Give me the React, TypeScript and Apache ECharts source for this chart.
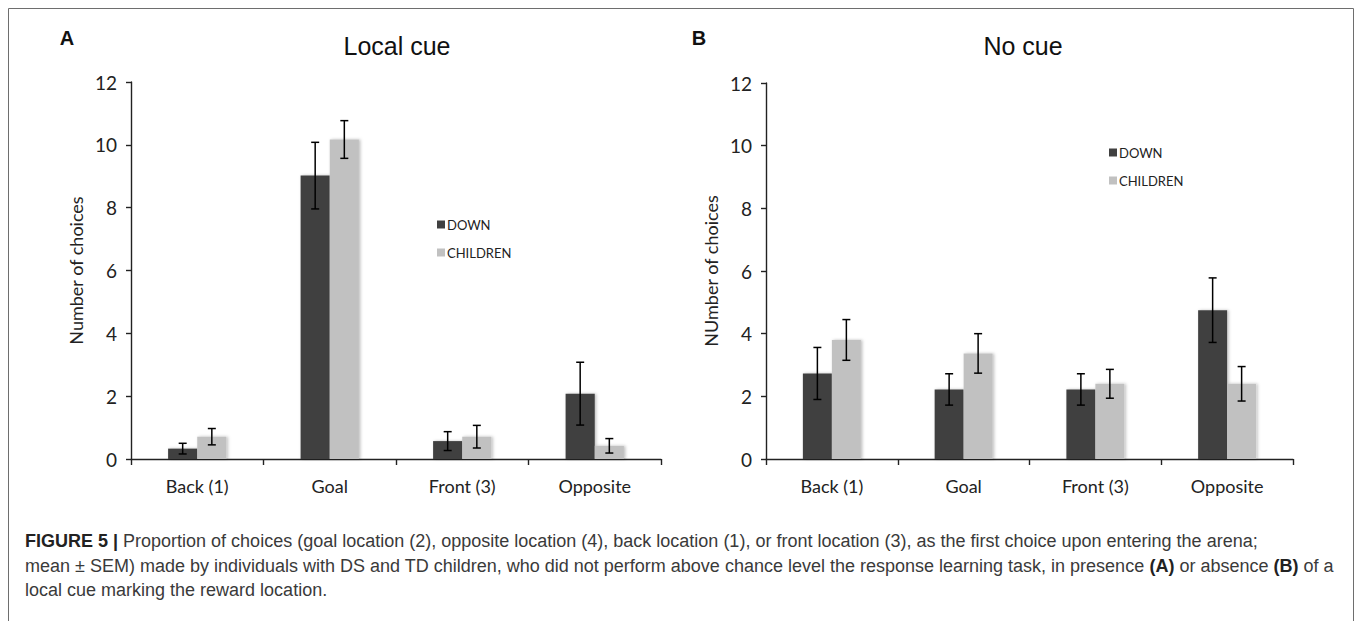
import React, { useEffect, useRef } from "react";
import * as echarts from "echarts";

const categories = ["Back (1)", "Goal", "Front (3)", "Opposite"];

const localDown = [0.33, 9.02, 0.57, 2.08];
const localDownErr = [0.17, 1.06, 0.3, 1.0];
const localChildren = [0.71, 10.17, 0.71, 0.42];
const localChildrenErr = [0.26, 0.6, 0.36, 0.23];

const noDown = [2.73, 2.22, 2.22, 4.75];
const noDownErr = [0.83, 0.5, 0.5, 1.03];
const noChildren = [3.8, 3.37, 2.4, 2.4];
const noChildrenErr = [0.65, 0.63, 0.46, 0.55];

const panelTitles = ["Local cue", "No cue"];
const panelLetters = ["A", "B"];
const yNames = ["Number of choices", "NUmber of choices"];
const seriesNames = ["DOWN", "CHILDREN"];

const DARK = "#404040";
const LIGHT = "#c1c1c1";
const FONT = "Lato, 'Open Sans', sans-serif";
const CAP = "'Liberation Sans', Arial, sans-serif";
const BAR_FRAC = 0.22;

function errData(vals: number[], errs: number[]) {
  return vals.map((v, i) => [i, v - errs[i], v + errs[i]]);
}

function makeErrSeries(vals: number[], errs: number[], idx: number, sign: number) {
  return {
    type: "custom",
    xAxisIndex: idx,
    yAxisIndex: idx,
    z: 10,
    silent: true,
    encode: { x: 0, y: [1, 2] },
    data: errData(vals, errs),
    renderItem: (params: any, api: any) => {
      const x = api.value(0);
      const lo = api.coord([x, api.value(1)]);
      const hi = api.coord([x, api.value(2)]);
      const band = api.size([1, 0])[0];
      const cx = lo[0] + sign * band * BAR_FRAC * 0.5;
      const cw = 4;
      const style = { stroke: "#000", lineWidth: 1.5 };
      return {
        type: "group",
        children: [
          { type: "line", shape: { x1: cx, y1: lo[1], x2: cx, y2: hi[1] }, style },
          { type: "line", shape: { x1: cx - cw, y1: hi[1], x2: cx + cw, y2: hi[1] }, style },
          { type: "line", shape: { x1: cx - cw, y1: lo[1], x2: cx + cw, y2: lo[1] }, style },
        ],
      };
    },
  };
}

const barShadow = {
  shadowColor: "rgba(0,0,0,0.25)",
  shadowBlur: 3,
  shadowOffsetX: 1.5,
};

export default function App() {
  const ref = useRef<HTMLDivElement>(null);
  useEffect(() => {
    document.body.style.margin = "0";
    const chart = echarts.init(ref.current!, null, { renderer: "svg" });
    const grids = [
      { left: 131, top: 82, width: 530, height: 377 },
      { left: 766, top: 83, width: 527, height: 376 },
    ];
    const xAxes = grids.map((_, i) => ({
      type: "category",
      gridIndex: i,
      data: categories,
      boundaryGap: true,
      axisLine: { lineStyle: { color: "#222", width: 1.4 } },
      axisTick: { show: true, length: 6, lineStyle: { color: "#222", width: 1.4 } },
      axisLabel: { fontFamily: FONT, fontSize: 18, color: "#222", margin: 18 },
    }));
    const yAxes = grids.map((_, i) => ({
      type: "value",
      gridIndex: i,
      min: 0,
      max: 12,
      interval: 2,
      name: yNames[i],
      nameLocation: "middle",
      nameGap: 46,
      nameTextStyle: { fontFamily: FONT, fontSize: 18, color: "#222" },
      splitLine: { show: false },
      axisLine: { show: true, lineStyle: { color: "#222", width: 1.4 } },
      axisTick: { show: true, length: 5, lineStyle: { color: "#222", width: 1.4 } },
      axisLabel: { fontFamily: FONT, fontSize: 19, color: "#222", margin: 14 },
    }));
    const sets = [
      [localDown, localDownErr, localChildren, localChildrenErr],
      [noDown, noDownErr, noChildren, noChildrenErr],
    ];
    const series: any[] = [];
    sets.forEach((s, i) => {
      series.push({
        name: seriesNames[0],
        type: "bar",
        xAxisIndex: i,
        yAxisIndex: i,
        data: s[0],
        barWidth: BAR_FRAC * 100 + "%",
        barGap: "0%",
        itemStyle: { color: DARK, ...barShadow },
      });
      series.push({
        name: seriesNames[1],
        type: "bar",
        xAxisIndex: i,
        yAxisIndex: i,
        data: s[2],
        barWidth: BAR_FRAC * 100 + "%",
        barGap: "0%",
        itemStyle: { color: LIGHT, ...barShadow },
      });
      series.push(makeErrSeries(s[0], s[1], i, -1));
      series.push(makeErrSeries(s[2], s[3], i, 1));
    });
    const legendPos = [
      { left: 432, top: 213 },
      { left: 1104, top: 141 },
    ];
    const legends = legendPos.map((p) => ({
      ...p,
      orient: "vertical",
      data: seriesNames,
      icon: "rect",
      itemWidth: 8,
      itemHeight: 8,
      itemGap: 15,
      selectedMode: false,
      textStyle: { fontFamily: FONT, fontSize: 13, color: "#222", padding: [0, 0, 0, -3] },
    }));
    const captionLines = [
      "{b|FIGURE 5 |} Proportion of choices (goal location (2), opposite location (4), back location (1), or front location (3), as the first choice upon entering the arena;",
      "mean ± SEM) made by individuals with DS and TD children, who did not perform above chance level the response learning task, in presence {b|(A)} or absence {b|(B)} of a",
      "local cue marking the reward location.",
    ];
    const captionY = [541, 566, 590];
    const graphic: any[] = [
      {
        type: "rect",
        shape: { x: 8.5, y: 8.5, width: 1345, height: 700 },
        style: { fill: "none", stroke: "#6e6e6e", lineWidth: 1 },
        silent: true,
      },
    ];
    const titleX = [397, 1023];
    const letterX = [67, 699];
    [0, 1].forEach((i) => {
      graphic.push({
        type: "text",
        x: titleX[i],
        y: 46,
        style: {
          text: panelTitles[i],
          font: `25px ${CAP}`,
          fill: "#111",
          align: "center",
          verticalAlign: "middle",
        },
      });
      graphic.push({
        type: "text",
        x: letterX[i],
        y: 38,
        style: {
          text: panelLetters[i],
          font: `bold 20px ${CAP}`,
          fill: "#111",
          align: "center",
          verticalAlign: "middle",
        },
      });
    });
    captionLines.forEach((t, i) => {
      graphic.push({
        type: "text",
        x: 25,
        y: captionY[i],
        style: {
          text: t,
          fontFamily: CAP,
          fontSize: 18,
          fill: "#3a3a3a",
          align: "left",
          verticalAlign: "middle",
          rich: {
            b: { fontFamily: CAP, fontSize: 18, fontWeight: "bold", fill: "#222" },
          },
        },
      });
    });
    chart.setOption({
      animation: false,
      grid: grids,
      xAxis: xAxes,
      yAxis: yAxes,
      legend: legends,
      series,
      graphic,
    });
    return () => chart.dispose();
  }, []);
  return <div ref={ref} style={{ width: 1357, height: 621 }} />;
}
